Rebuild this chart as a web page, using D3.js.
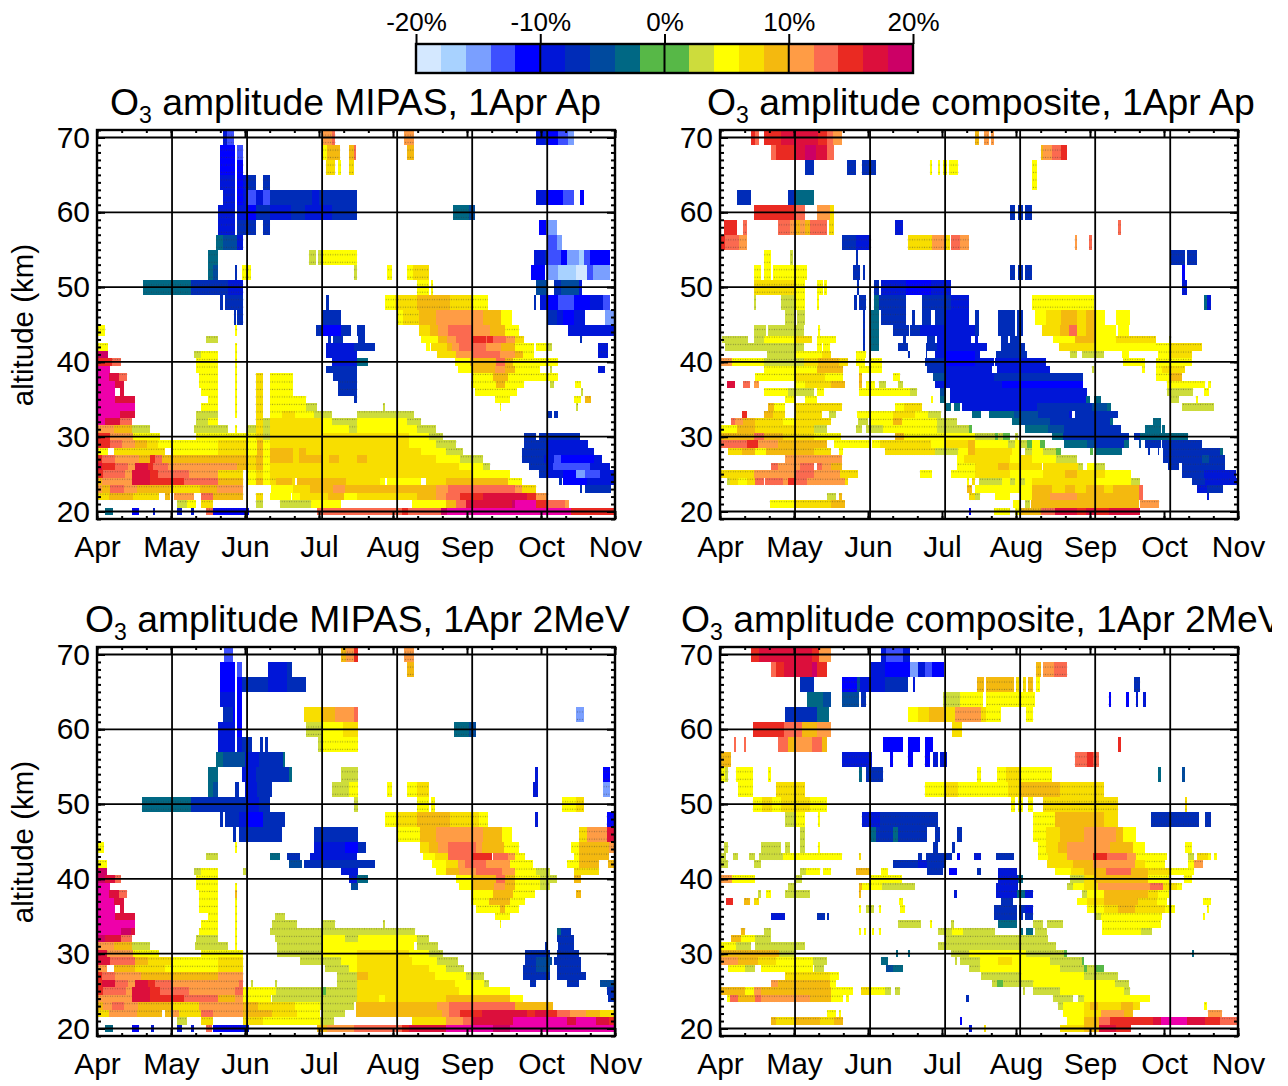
<!DOCTYPE html>
<html><head><meta charset="utf-8"><script src="https://cdn.jsdelivr.net/npm/d3@7"></script>
<style>html,body{margin:0;background:#fff}svg{display:block}text{font-family:"Liberation Sans",Arial,sans-serif;fill:#000}</style></head>
<body><svg id="c" width="1272" height="1086"></svg>
<script>
const monthLabels=['Apr','May','Jun','Jul','Aug','Sep','Oct','Nov'];
const gridDays=[31,62,93,124,155,186];
const altitudeTicks=[20,30,40,50,60,70];
const barTicks=[-20,-10,0,10,20];
const levelColors=['#d4e8ff','#a8d2ff','#7a9fff','#3d50ff','#0000ff','#0016d8','#002cb8','#004a9e','#006884','#57b847','#57b847','#cddc3c','#ffff00','#f8de00','#f4b90f','#ff9c45','#fb6a50','#ea2a22','#dc0f3c','#cc0066','#ee00aa'];

// each row: altitude (km), then [first day, last day, amplitude %]
const mipasAp=[
[70,[52,53.5,-9],[53.5,56.5,-13],[93.5,97,11],[97,98.5,13],[127,131,11],[181.5,185,-9],[185,186.5,-7],[186.5,190.5,-11],[190.5,194.5,-13],[194.5,197,-15]],
[68,[51,57,-11],[58,60.5,-13],[93.5,95,5],[95,100.5,9],[104,106,9],[106,107,13],[128,131,9]],
[66,[51,57,-11],[58,60.5,-11],[94.5,98.5,7],[99.7,100.7,5],[104,106,7]],
[64,[51,57,-9],[58,60.5,-11],[60.5,62,-9],[62,65.5,-7],[68.5,71.5,-7]],
[62,[52,57,-9],[58,60.5,-11],[60.5,62,-9],[62,65.5,-13],[65.5,68.5,-9],[68.5,71.5,-13],[71.5,84,-7],[84,89,-7],[89,91.7,-9],[91.7,107.5,-7],[181.5,185.5,-9],[185.5,192.5,-11],[192.5,197,-13],[199.5,201,-11]],
[60,[50,57,-9],[58,62,-9],[62,65.5,-11],[65.5,71.5,-7],[71.5,80,-9],[80,86,-7],[86,97,-9],[97,107.5,-7],[147,153.5,-3],[153.5,156,-5]],
[58,[50,57,-9],[58,65.5,-7],[68.5,71.5,-7],[182.5,185.5,-11],[185.5,190,-15]],
[56,[49,52,-3],[52,58,-5],[58,60.5,-9],[186.5,190,-13],[190,192,-15]],
[54,[46,50,-3],[87.5,90.5,3],[91.5,93.5,3],[93.5,107.5,5],[180.5,185,-9],[185,186.5,-7],[186.5,191.5,-13],[191.5,194,-11],[194,199,-15],[199,201,-17],[201,203.5,-13],[203.5,212,-11]],
[52,[46,48,-3],[48,50,-5],[57,58,-7],[60,63.5,5],[106,107.5,3],[120,122,5],[128,130.5,5],[130.5,137,7],[179.5,185,-11],[185.5,190.5,-15],[190.5,198,-17],[198,202.5,-19],[202.5,205,-13],[205,212,-15]],
[50,[19,39,-3],[39,54,-7],[54,60.5,-9],[132,137,5],[138,139,5],[181.5,186.5,-5],[189,191.5,-7],[191.5,199,-5],[199,200.5,-9]],
[48,[51,52,-7],[53,60.5,-7],[94.7,95.8,-7],[119,123,5],[123,132,7],[132,146,9],[146,155,7],[155,161.5,5],[180.5,181.5,-7],[183,186.5,-9],[186.5,190.5,-11],[190.5,197,-13],[197,203.5,-11],[203.5,209,-9],[209,212,-13]],
[46,[56.5,57.5,-7],[58,60.5,-7],[93,100.7,-7],[124,126.5,5],[126.5,133,7],[133,140,9],[140,159.5,11],[159.5,167,9],[167,171.5,5],[186,190,-7],[190,192.5,-9],[192.5,197,-11],[197,201.5,-9],[210,214,-15]],
[44,[0,3.5,5],[57,58,5],[90.5,93,-7],[93,100.7,-11],[100.7,104.8,-7],[107.6,110.8,-7],[133,137.5,7],[137.5,141,9],[141,145,11],[145,155,13],[155,162.5,11],[162.5,168.5,9],[168.5,174.5,5],[194.5,213.5,-9]],
[43,[45,50,3],[95.6,96.6,-7],[97.7,101.8,-7],[107.7,110.8,-7],[134,141,5],[141,144.5,9],[144.5,148.5,11],[148.5,155,13],[155,160.5,15],[160.5,161,13],[161,163.5,15],[163.5,169,13],[169,172.5,11],[172.5,176.5,7],[199.5,200.5,-7]],
[42,[0,4.5,5],[57,58,5],[94.5,106,-9],[106,115,-7],[136,137.5,5],[138,144.5,7],[144.5,146.5,9],[146.5,149.5,11],[149.5,160.5,13],[160.5,167,11],[167,172.5,9],[172.5,180.5,5],[181.5,186,5],[186,188,3],[207,211,-9]],
[41,[0,4.5,19],[40,43,3],[43,50,5],[57,58,5],[94.5,107.6,-9],[140.5,148.5,7],[148.5,155,11],[155,166.5,13],[166.5,172.5,11],[172.5,176,9],[176,180.5,5],[207,211,-9]],
[40,[0,6,15],[6,10,13],[41,50,5],[57,58,5],[97,107.6,-9],[107.6,112,-3],[148,154,5],[154,165,9],[165,168.5,13],[168.5,172,9],[172,190.5,5]],
[39,[0,5.5,21],[41,50,5],[57,58,5],[94.5,107.6,-7],[149,155,5],[155,164.5,9],[164.5,168.5,11],[168.5,172.5,9],[172.5,183,5],[187,188,3],[207,210,-9]],
[38,[0,5,21],[5,9,17],[9,12.5,13],[42,50,5],[57,58,5],[65.5,68.5,7],[71.5,81,5],[97.7,107.6,-7],[155,163.5,5],[163.5,170,9],[170,190.5,5]],
[37,[0,7.5,21],[7.5,11,17],[42,50,5],[57,58,5],[65.5,68.5,7],[71.5,81,5],[99.7,107.6,-7],[154.5,165,5],[165,168.5,9],[168.5,176.5,5],[187,189,3],[197.5,200,5]],
[36,[0,7.5,21],[9.5,11,17],[43,50,5],[57,58,5],[65.5,68.5,7],[71.5,81,5],[99.7,107.6,-7],[156,173.5,5],[200,200.7,3]],
[35,[0,7.5,21],[7.5,15.5,17],[46,50,5],[57,58,5],[65.5,68.5,7],[71.5,82,5],[82,86.5,5],[106,107.6,-7],[164.5,170.5,5],[197,200,5],[201.5,204,9]],
[34,[0,15.5,21],[43,50,5],[57,58,5],[65.5,68.5,7],[71.5,86.5,5],[86.5,91,3],[118,119,3],[166.5,167,5],[198,198.7,3]],
[33,[0,9.5,21],[9.5,15.5,17],[41,50,3],[57,58,5],[65.5,68.5,7],[71.5,76.5,5],[76.5,82,7],[82,89.5,5],[89.5,97,3],[107.5,131,3],[186.5,188,-7],[189,190.5,-7]],
[32,[0,3.5,21],[3.5,9.5,17],[9.5,14.5,13],[41,46,3],[46,50,5],[65.5,68.5,7],[68.5,71.5,3],[71.5,93,7],[93,97,5],[97,106,3],[106,107.5,3],[107.5,128,5],[128,134,3]],
[31,[0,7,11],[7,14.5,9],[14.5,22,3],[40,54,3],[57,58,5],[62,65.5,3],[65.5,68.5,7],[68.5,71.5,3],[71.5,93.5,7],[93.5,104,5],[104,107.5,3],[107.5,132,5],[132,140,3]],
[30,[0,5.5,15],[5.5,15,11],[15,26,5],[41,62,5],[62,65.5,5],[65.5,68.5,7],[68.5,71.5,3],[71.5,129,7],[129,137,5],[137,143,3],[176.5,181.5,-7],[182.5,199.5,-7]],
[29,[0,5.5,15],[5.5,10.5,13],[10.5,15.5,11],[15.5,20.5,9],[20.5,25,7],[25,50,5],[50,62,7],[62,66,5],[66,68.5,9],[68.5,71.5,5],[71.5,129,7],[129,140,5],[140,148.5,3],[176.5,185.5,-7],[185.5,203,-9]],
[28,[0,4.5,5],[7,15.5,7],[15.5,28,7],[30.5,50,5],[50,62,7],[62,66,5],[66,68.5,9],[68.5,71.5,5],[71.5,81,9],[81,83.5,7],[83.5,86.5,9],[86.5,134,7],[134,144,5],[144,151,3],[175.5,185.5,-7],[185.5,199.5,-9],[199.5,205.5,-9]],
[27,[0,2,15],[2,7.5,13],[7.5,17.5,11],[17.5,22,9],[22,24,15],[24,27,13],[27,62,9],[62,65.5,7],[65.5,68.5,9],[68.5,71.5,5],[71.5,81,9],[81,83.5,7],[83.5,93,9],[93,96,7],[96,100,9],[100,107.5,7],[107.5,111.5,9],[111.5,140,7],[140,150,5],[150,159.5,3],[175.5,184.5,-7],[184.5,189,-9],[189,191.5,-13],[191.5,205.5,-11],[205.5,208.5,-9]],
[26,[0,2,17],[2,7.5,15],[7.5,13,13],[13,15.5,11],[15.5,21,17],[21,23,15],[23,29.5,13],[29.5,58,11],[58,62,9],[62,65.5,7],[65.5,68.5,9],[68.5,71.5,5],[71.5,149.5,7],[149.5,159.5,5],[159.5,162.5,3],[178.5,185.5,-7],[185.5,188.5,-9],[188.5,203.5,-13],[203.5,212,-9]],
[25,[0,2.5,15],[2.5,11.5,13],[11.5,14.5,11],[14.5,22,17],[22,25,15],[25,38,13],[38,50,11],[50,60.5,7],[62,65.5,5],[65.5,68.5,7],[68.5,71.5,5],[71.5,155,7],[155,163.5,5],[163.5,170.5,5],[182.5,185.5,-7],[185.5,192.5,-9],[192.5,198,-11],[198,201.5,-15],[201.5,208,-13],[208,213.5,-9]],
[24,[0,2,9],[2,14.5,11],[14.5,22,17],[22,36,15],[36,50,13],[50,60.5,9],[62,65.5,5],[65.5,68.5,9],[68.5,71.5,5],[71.5,74,7],[74,80.5,9],[80.5,82,7],[82.5,103,9],[103,107,7],[107,117,7],[117,119,5],[120,134,5],[136,144,7],[144,170,9],[170,175.5,5],[191,192,-7],[192.5,202.5,-11],[202.5,213.5,-9]],
[23,[0,2,11],[2,5.5,9],[5.5,11,13],[11,16.5,11],[16.5,30,9],[30,42.5,7],[42.5,49.5,9],[49.5,60.5,11],[72,81,5],[81,88,7],[88,97.5,9],[97.5,102.5,11],[102.5,107.5,9],[107.5,123,9],[123,140,9],[140,145,11],[145,172.5,13],[172.5,175.5,11],[175.5,181.5,7],[199.5,200.5,-7],[201.5,212.5,-7]],
[22,[0,5,7],[5,15,9],[15,25.5,7],[28,30,9],[32,35,11],[35,40,11],[43,48,13],[48,60.5,9],[65.5,68.5,7],[71.5,80,5],[80.5,84,5],[84,91,7],[91,95.5,7],[95.5,102,9],[102,107.5,5],[107.5,132,7],[132,140,9],[140,144,11],[144,150,13],[150,159.5,15],[159.5,177.5,17],[177.5,181.5,15],[181.5,186.5,11]],
[21,[33,37,3],[37,41,5],[43,48,7],[65.5,68.5,3],[75.5,88.5,3],[88.5,101,5],[130,144,5],[144,148.5,9],[148.5,152.5,13],[152.5,171.5,17],[171.5,172.7,19],[172.7,181.5,21],[181.5,186,15],[186,193.5,13],[193.5,195,11]],
[20,[0,0.5,-7],[3.5,6.5,-3],[14.5,17.5,-11],[23,24,-9],[33,35,-9],[39,40,-9],[45,48,13],[48,63,-11],[91,126,13],[126,128.5,15],[128.5,142,13],[142,144.5,19],[144.5,196,21],[196,214,15]]
];
const compositeAp=[
[70,[13,14.5,15],[14.5,16,13],[18,25,15],[25,31,17],[31,40.5,17],[40.5,44,15],[44,46.5,13],[46.5,50.5,11],[105.5,107,9],[109,111,11],[112,113,11]],
[68,[21,23,13],[23,31,15],[31,35,17],[35,39.5,19],[39.5,44,17],[44,47,13],[132.5,133.5,9],[133.5,137,11],[137,141,13],[141,143.5,15]],
[66,[35,39,-7],[52.5,56,-7],[58.5,64.5,-7],[86.7,87.7,5],[90,91,5],[92,93.7,5],[94.5,98.5,5],[129,131,5]],
[64,[129,131,5]],
[62,[7,13,-7],[28,31,-7],[31,39,-3]],
[60,[14,27,15],[27,31,15],[31,35,13],[40,45.5,11],[45.5,47,7],[120,122,-7],[123,125,-7],[126,129,-7]],
[58,[1.5,7,15],[9.5,11,13],[24,29,13],[29,31,11],[31,33,9],[33,35,11],[35,37,9],[37,44,13],[45,47,7],[72.5,75.5,-9],[164.5,165.5,13]],
[56,[0,2,15],[2,8,13],[8,11,11],[50.5,56,-7],[56,62.5,-9],[77.5,87.5,7],[87.5,93,11],[93,95,7],[95.5,99,13],[99,103,11],[146.5,147.5,11],[152.5,153.5,13]],
[54,[18,21,5],[29,30,3],[56,57,-7],[186,192,-7],[193,197,-7]],
[52,[14,17,5],[18,21,5],[22,31,5],[31,36,5],[55,58,-7],[59,60,-7],[120,122,-7],[123,125,-7],[126,129,-7],[191,192,-11]],
[50,[14,22,7],[22,30.5,7],[30.5,35,5],[40,42.5,5],[43,44,5],[56.5,57.5,-7],[63.5,65.5,-7],[66.5,77,-9],[77,87,-11],[87,95.5,-9],[191,193,-9]],
[48,[14,15,3],[25,30.5,3],[30.5,35,5],[40,41,5],[55.5,56.5,-7],[57.5,60.5,-7],[63.5,65.5,-3],[65.5,77,-7],[83.5,95.5,-7],[95.5,103,-9],[129,154.5,5],[200,201,-3],[201,203,-9]],
[46,[27,30.5,3],[32,35,3],[59,60,-7],[62.5,65.5,-3],[66.5,77,-7],[79.5,80.5,-7],[83.5,87,-7],[89,93,-7],[93,103,-9],[105.4,106.8,-7],[115,122,-7],[122.7,125,-7],[130,134.5,5],[134.5,141,7],[141,147.5,9],[147.5,151,7],[151,155,9],[155,159,5],[163.5,169.5,5]],
[44,[14,19,3],[20,34.5,3],[40.5,41.5,5],[59,60,-7],[62.5,65.5,-3],[71.5,78,-7],[78.5,82.5,-7],[82.5,93,-9],[93,105.5,-9],[105.4,106.8,-7],[115,122,-7],[122.7,125,-7],[133,140.5,7],[140.5,144,9],[144,147.5,13],[147.5,151,7],[151,155,9],[155,163.5,5],[164.5,169,5]],
[43,[1,11.5,3],[14,18,3],[18,31,5],[31,38,7],[40,48,5],[59,60,-7],[62.5,65.5,-3],[75.7,77,-7],[85.5,88.8,-7],[89.5,103.5,-9],[105.4,106.7,-9],[116,119,-7],[120,124,-7],[137.5,146.5,5],[146.5,155,9],[155,163.5,5],[163.5,180,7],[185.5,186.5,3]],
[42,[2,34.5,3],[40,42,5],[42.5,45.5,5],[59,60,-7],[62.5,65.5,-3],[73.5,77.5,-7],[85,89.5,-7],[89.5,105.5,-9],[105.4,110.2,-9],[116,126,-7],[140,155,7],[155,180,5],[180,186.5,5],[186.5,199,7]],
[41,[19.5,31,3],[31,42,5],[42,46,7],[56,60.5,5],[77.5,78.5,-7],[85,85.5,-7],[89,93,-9],[93,105.4,-11],[105.4,107.5,-9],[114,127,-7],[144.5,147.5,3],[149.5,158.5,3],[166,169,5],[181,185.5,5],[185.5,195,7]],
[40,[0.5,5,11],[5,18,5],[18,34.5,3],[34.5,40.5,7],[40.5,49,9],[49,53,7],[56,60,5],[62,67,5],[84.7,93,-7],[93,105.4,-11],[105.4,113,-9],[113.6,134.5,-9],[166.5,175.5,5],[180,195,5]],
[39,[18,34.5,5],[34.5,40,5],[40,51,9],[57.5,67,5],[85.4,93,-7],[93,112.3,-9],[114.3,136.5,-9],[153.5,154.5,3],[174.5,175.5,5],[180,182.5,5],[182.5,192,7]],
[38,[14.5,31,5],[31,43.5,7],[43.5,51,5],[57.5,58.5,9],[71.5,74.5,5],[88,93,-5],[93,113,-9],[113,150,-7],[180,185.5,5],[185.5,190.8,9]],
[37,[3,6,17],[9.5,12.5,13],[14,16,11],[31,35,5],[35,46,7],[46,51.5,9],[57.5,58.5,9],[60.5,64,5],[65.5,68.5,3],[73.5,75.5,3],[89,116.4,-9],[116.4,150,-11],[184.5,200.5,5],[201.8,203,5]],
[36,[18,28,5],[28,39,3],[40,43,5],[57.5,78.5,5],[78.5,81.5,3],[91,93.5,-5],[95,151.5,-9],[184.5,188,3],[188,195.5,3],[200,202,5]],
[35,[27,31,5],[35,40,5],[87,88,5],[91,93.5,-3],[95,151,-9],[151,153,-3],[154.5,157.5,-3],[186.5,189.5,3],[196.5,197.5,5]],
[34,[20,22.5,9],[22.5,27,5],[31,50.5,7],[72.5,76,5],[76,83.5,7],[93,95.5,-3],[96.5,99,-3],[100,131,-9],[131,153.5,-7],[153.5,160,-5],[160,161.5,-3],[191,204,3]],
[33,[9,11,15],[18,22,9],[22,27,7],[31.5,42,7],[45,48,3],[56.5,71.5,5],[71.5,80.5,7],[80.5,86,5],[86,91.5,3],[104,108,-3],[111,121.6,-3],[121.5,131.5,-5],[131.5,144,-7],[144,145.5,-9],[146.5,164.5,-7]],
[32,[4.5,6,13],[6,9.5,11],[9.5,14.5,9],[14.5,26,7],[26,31,5],[31,46,7],[57,61,3],[62.5,71.5,5],[71.5,75,9],[75,89.5,5],[89.5,98,3],[120.5,124,-3],[124,136.5,-5],[136.5,161,-7],[161,162.5,-3],[179,182,-3]],
[31,[0,7,5],[7,14.5,9],[14.5,39,7],[39,44,3],[56,58.5,3],[60.5,67.5,3],[67.5,89.5,5],[89.5,103,3],[103,104,1],[126,135.5,-3],[135.5,142,-5],[142,165.5,-7],[175.5,182,-3],[182.5,184,-3]],
[30,[0,14,9],[14,18,13],[18,26,9],[26,39,7],[39,50,5],[72.5,76,9],[76,93,5],[93,105.5,5],[105.4,113.6,3],[113.6,115,1],[115,117,3],[117,120,1],[122,123.3,3],[137,141.5,-3],[141.5,169,-7],[171,173.5,-7],[173.5,193.5,-3]],
[29,[0,11,13],[11,15.5,15],[15.5,24,11],[24,44,9],[47,62,5],[63,66,5],[66,87,7],[87,93,5],[93,102.5,7],[102.5,105.5,9],[105.4,119,5],[119,122,3],[122,124,5],[124,126.7,3],[126.7,129,1],[129,132.3,5],[132.3,134.3,1],[142,151.5,-3],[151.5,155.5,-5],[155.5,167,-7],[167,169,-3],[173,174,-5],[175.5,182,-7],[182.5,199,-7]],
[28,[3.5,9,7],[9,14.5,9],[14.5,19,5],[19,39,9],[39,46,7],[49,51,5],[68,89,7],[89,98.5,3],[98.5,102.5,5],[102.5,105.5,9],[105.4,120.5,7],[120.5,124,5],[126,129,3],[129,133.6,5],[133.6,139,3],[139,141,1],[153,154,1],[155,166,-3],[176.7,177.5,-7],[181,181.5,-7],[183,206.5,-7],[206.5,208,-3]],
[27,[27,50.5,11],[98,101,5],[101,105.5,7],[105.4,119.8,7],[119.8,124,5],[124,129,7],[129,139,5],[139,147.5,3],[183,195,-7],[195,199,-7],[199,202,-5],[202,208.5,-7]],
[26,[21,24,13],[24,33,11],[33,39,13],[40,42,13],[42,46,11],[46,50.5,9],[98,105.5,5],[105.5,115,7],[115,119.2,9],[119.2,133,7],[133.5,148,7],[148,150,3],[151.5,155,5],[155,159,3],[185,189.5,-7],[191,208.5,-7]],
[25,[0,14,7],[14,31,11],[31,39,13],[39,49.5,11],[49.5,57,7],[82.5,87.5,5],[95.5,105.5,5],[105.4,120,7],[120,133.5,5],[133.5,142.5,7],[142.5,147.5,9],[147.5,159,7],[159,170,5],[191,200,-7],[200,213,-9]],
[24,[3,4,3],[4,7.5,7],[7.5,11,5],[11,14.5,7],[14.5,18,13],[18.5,26,13],[26,28,11],[28,31,15],[31,36,13],[36,51.5,11],[51.5,53,7],[102,103,5],[104,105.5,7],[107,116.5,3],[116.5,120,5],[120,122,3],[122,124,5],[124,126,3],[126,129,5],[129,155,7],[155,170,5],[170,173.5,3],[195,200.5,-7],[200.5,213.5,-9]],
[23,[102,104,9],[105.5,129,5],[129,137,9],[137,142.5,7],[142.5,146.5,9],[146.5,151,7],[151,158.5,9],[158.5,162.5,7],[162.5,173,9],[173,174.7,13],[197,201,-9],[201,208,-7]],
[22,[44,48,3],[49,50.5,9],[103,105.5,7],[105.4,107.5,3],[113.5,120,5],[124.5,129,5],[129,136.5,9],[136.5,147.5,11],[147.5,151,9],[151,173,9],[173,174.7,13],[201,202,-9]],
[21,[20.5,31,5],[31,42,7],[42,46,7],[46,51.5,9],[121,124,5],[126,128,3],[128.5,173,9],[173.5,181.5,11]],
[20,[103,103.8,-11],[113,120,5],[122,124,5],[124,132.5,9],[132.5,138.5,13],[138.5,147.5,17],[147.5,151,15],[151,155,17],[155,160.5,15],[160.5,173.5,17]]
];
const mipas2MeV=[
[70,[52.5,56,-13],[101,103,9],[103,106,11],[106,108,15],[127,131,11]],
[68,[51,57,-11],[58,60,-13],[70.5,78.5,-9],[78.5,80.5,-7],[128,131,9]],
[66,[51,57,-11],[58,60,-11],[60,70.5,-7],[70.5,78.5,-9],[78.5,86.5,-7]],
[64,[51,57,-9],[58,60,-11]],
[62,[52,56,-7],[56,57,-11],[58,60,-11],[85.5,92.5,7],[92.5,98.5,9],[98.5,106,11],[106,108,13],[198,201,-15]],
[60,[50,57,-9],[58,60,-11],[86.5,92.5,3],[92.5,101.5,5],[101.5,108,7],[147.5,153.5,-3],[153.5,156.5,-5]],
[58,[50,57,-9],[58,60,-9],[60,64,-7],[67.5,68.5,-7],[69.5,70.5,-7],[91.5,93.5,3],[93.5,108,5]],
[56,[49,52,-3],[52,57,-5],[57,61,-5],[61,67,-9],[67,77,-7],[77,77.5,-3]],
[54,[46,50,-3],[60,65.5,-9],[65.5,79.5,-7],[79.5,80.5,-3],[101,108,3],[181,182,-9],[209,212,-11]],
[52,[46,48,-3],[48,50,-5],[57,58.5,-7],[61,66,-9],[66,72.5,-7],[97,104,3],[104,108,5],[120,122,5],[128,132,5],[132,137,7],[180,182,-9],[209,212,-15]],
[50,[18.5,39,-3],[39,54,-7],[54,61.5,-7],[61.5,67,-9],[67,71.5,-7],[106,108,3],[132,137,5],[138,139.5,5],[192,198,5],[198,201,7]],
[48,[51,52,-7],[53,58.5,-7],[58.5,61.5,-9],[61.5,68.5,-11],[68.5,77.5,-7],[119,123.5,5],[123.5,132,7],[132,146,9],[146,158,7],[158,161.5,5],[181,182,-9],[210.5,214,-11]],
[46,[56,57.5,-7],[58.5,76.5,-7],[89.5,108,-7],[124.5,133.5,5],[133.5,140,9],[140,159.5,11],[159.5,167.5,9],[167.5,171.5,5],[199,202.5,7],[202.5,210.5,11],[210.5,214,17]],
[44,[0,3,5],[57,58,5],[89.5,102.5,-9],[102.5,108,-11],[108,111,-7],[133.5,137,7],[137,141,9],[141,145,11],[145,156.5,13],[156.5,159,11],[159,168,9],[168,174.5,5],[196,199,5],[199,211.5,9],[211.5,214,11]],
[43,[45,50,3],[71.5,75.5,-3],[78.5,84,-7],[88,107.5,-9],[134.5,139.5,5],[139.5,145,7],[145,155,13],[155,160.5,15],[160.5,163,15],[163.5,170,13],[170,172.5,11],[172.5,177,5],[197,199,5],[199,211.5,9]],
[42,[0,4,5],[79.5,84.5,-5],[85.5,115,-7],[138.5,144,5],[144,149,7],[149,152,11],[152,160.5,13],[160.5,170.5,11],[170.5,180,5],[194,199,5],[199,207.5,9],[211,214,9]],
[41,[0,4,19],[40,43,3],[43,50,5],[60.5,61.5,3],[101,108,-9],[140,144,5],[144,149.5,9],[149.5,156.5,11],[156.5,167.5,13],[167.5,172.5,11],[172.5,181.5,5],[181.5,187,3],[197,207.5,7]],
[40,[0,3.5,19],[3.5,7.5,17],[7.5,10,13],[41,50,5],[104,107.5,-9],[107.5,112,-3],[148.5,155,5],[155,165,9],[165,168.5,13],[168.5,172.5,9],[172.5,183,5],[183,190,3],[197,200,9]],
[39,[0,5.5,21],[41,50,5],[57,58,5],[105,108,-5],[149.5,155,5],[155,164,9],[164,168.5,11],[168.5,172.5,9],[172.5,183,5],[183,187,3]],
[38,[0,5,21],[5,9,17],[9,12.5,13],[42,50,5],[57,58,9],[154.5,163.5,5],[163.5,172,9],[172,181,5],[198,200,9]],
[37,[0,7,21],[7,11,17],[42,50,5],[57,58,5],[154.5,162,5],[162,170.5,9],[170.5,177,5]],
[36,[0,7.5,21],[9.5,11,17],[42,50,5],[57,58,5],[156.5,166.5,5],[166.5,168.5,9],[168.5,174.5,5]],
[35,[0,7.5,21],[7.5,15.5,17],[46,50,5],[57,58,5],[73.5,77.5,3],[164.5,170.5,5]],
[34,[0,15.5,21],[43,50,5],[57,58,5],[72.5,82.5,3],[93.5,98.5,3],[118,119,3],[166.5,167,5]],
[33,[0,10,21],[10,14,19],[14,15.5,17],[42,50,5],[57,58,5],[71.5,131.5,3],[190,191.5,-3],[191.5,196,-7]],
[32,[0,3.5,19],[3.5,10,17],[10,14.5,13],[41,50,3],[57,58,5],[73.5,93,3],[93,102.5,5],[102.5,108,3],[108,124.5,5],[124.5,132,5],[132,137,3],[190,197,-7]],
[31,[0,7,11],[7,14.5,9],[14.5,22,3],[40.5,54,3],[57,58,5],[74.5,93,3],[93,131,5],[132,141,3],[185,186,-7],[190.5,197,-7]],
[30,[0,4,17],[4,15,11],[15,25.5,5],[43,60.5,5],[74.5,93,3],[93,107.5,5],[107.5,129,7],[129,137,5],[137,143,3],[177,187,-7],[190,199,-7]],
[29,[0,5.5,17],[5.5,15.5,13],[15.5,21,9],[21,30.5,7],[30.5,40.5,5],[40.5,50,5],[50,60.5,7],[84,93,3],[93,101,3],[101,107.5,5],[107.5,130,7],[130,140.5,5],[140.5,149,3],[177,181.5,-7],[181.5,188,-5],[189,200,-7]],
[28,[0,4,11],[7,15.5,9],[15.5,28,7],[28,50,5],[50,60.5,7],[94,104,3],[104,107.5,5],[107.5,137,7],[137,144,5],[144,151.5,3],[176,181.5,-7],[181.5,187,-5],[190,200,-7]],
[27,[0,2,15],[2,7.5,13],[7.5,18,11],[18,30.5,9],[30.5,50,9],[50,60.5,11],[99,107.5,3],[107.5,112,9],[112,139.5,7],[139.5,152.5,5],[152.5,160,3],[176,187,-7],[190,202,-7]],
[26,[0,2,15],[2,7.5,17],[7.5,13,13],[13,15.5,11],[15.5,21,17],[21,24,15],[24,30.5,13],[30.5,58.5,11],[58.5,60.5,13],[63.5,64.5,3],[73.5,74.5,3],[99,107.5,3],[107.5,148,7],[148,160,5],[160,162,3],[179,181.5,-7],[194,199,-7],[208,214,-5]],
[25,[0,2.5,15],[2.5,12,13],[12,14.5,11],[14.5,22,17],[22,26,15],[26,38,13],[38,57,11],[57,60.5,13],[60.5,74,5],[74,93.5,3],[93.5,94.5,1],[94.5,107.5,3],[107.5,149.5,7],[149.5,163.5,5],[163.5,170.5,5],[210.5,214,-7]],
[24,[0,2,11],[2,14.5,11],[14.5,22,17],[22,36,15],[36,50,13],[50,57,9],[57,60.5,11],[60.5,72,5],[72.5,93,3],[93,107.5,3],[107.5,116.5,7],[116.5,119,5],[119,144,7],[144,170.5,9],[170.5,176,5],[211,214,-7]],
[23,[0,2.5,9],[2.5,6,11],[6,11,13],[11,17,11],[17,30.5,9],[30.5,42,7],[42,60.5,11],[60.5,66.5,9],[66.5,82,7],[82,92,5],[92,106,3],[107,140.5,9],[140.5,145.5,11],[145.5,172.5,13],[172.5,188.5,9]],
[22,[0,5,7],[5,16.5,11],[16.5,27,9],[28,30.5,9],[31.5,34,11],[34,43,7],[43,48,13],[48,60.5,11],[60.5,72.5,9],[72.5,82.5,7],[82.5,92,5],[93.5,102.5,3],[107,142.5,9],[142.5,145.5,11],[145.5,150,13],[150,159,15],[159,177.5,17],[177.5,181,15],[181,186.5,17],[186.5,190,15],[190,195.5,13],[195.5,202,11],[202,208,9],[208,214,7]],
[21,[33,37,3],[43,48,7],[60.5,68.5,7],[68.5,92,5],[92,98,3],[130,144,7],[144,151,11],[151,155,13],[155,172,17],[172,194,21],[194,198,17],[198,206,21],[206,211.5,17],[211.5,214,15]],
[20,[0,0.5,-7],[3.5,6.5,-3],[14.5,17.5,-11],[22.5,23.5,-9],[33,35,-9],[39,40,-9],[45,47.5,13],[48,59.5,-11],[59.5,63,-9],[91,95,9],[95,106,11],[106,126,13],[126,129,15],[129,144,17],[144,163.5,21],[163.5,170.5,19],[170.5,214,21]]
];
const composite2MeV=[
[70,[13,16,15],[16,30,17],[30,38,17],[38,41,15],[41,46,11],[66.5,68.5,-9],[68.5,75.5,-13],[75.5,78.5,-9]],
[68,[21,23,13],[23,26.5,15],[26.5,38,17],[38,40,19],[40,44,15],[62.5,68,-9],[68,78.5,-11],[78.5,82,-15],[82,84.5,-9],[84.5,87.5,-13],[87.5,92.5,-11],[130.5,132.5,9],[133.5,138,11],[138,143.5,13]],
[66,[33,39,-7],[50.5,56.5,-11],[56.5,58,-5],[58,68,-9],[68,77.5,-7],[79.7,80.7,-9],[106,109,9],[110,121.5,9],[122.4,123.4,7],[125,126.3,7],[127.3,129.4,9],[130.5,132,5],[171,173.7,-7]],
[64,[36,42.5,-3],[42.5,46,-5],[50.5,57.5,-5],[58.3,60.5,-7],[92,99,3],[99,108.5,5],[110,130,5],[160.5,161.7,-11],[167.7,168.8,-11],[171.7,172.7,-9],[174.8,176,-9]],
[62,[27,31.5,-7],[31.5,40,-7],[40,45,-3],[77.5,82,5],[82,86.5,7],[86.5,93,9],[93,97,7],[97,108,11],[108,110,7],[110,116,5],[126.3,129.4,5]],
[60,[13.5,26.5,15],[26.5,34,13],[34,40,9],[40,46,11],[96,100,7]],
[58,[5.6,6.6,13],[9.8,10.8,13],[24,28,13],[28,31.5,9],[31.5,38,11],[38,42,13],[42,44,9],[67.5,75.5,-11],[77.5,82.5,-11],[84.5,88,-11],[164.6,165.7,15]],
[56,[0.5,4.5,9],[50.5,63,-9],[70.3,71.6,-11],[77.5,79.7,-11],[84.5,86.7,-11],[88,90,-9],[91,93.7,-9],[146.5,151.5,13],[151.5,154,15],[154,156.5,13]],
[54,[0,2,5],[2,3.5,3],[6.5,13.5,5],[20,21,5],[57.3,58.5,-3],[60.5,67.5,-7],[106,108,5],[114.5,118,5],[118,124,7],[124,137,5],[181,182,-3],[191,192,-5]],
[52,[7.5,13.5,5],[23,35,7],[84.5,93,5],[93,98.5,7],[98.5,119,5],[119,124.5,7],[124.5,140.5,9],[140.5,158.5,7]],
[50,[13.5,17.5,5],[17.5,21.5,7],[21.5,25,5],[25,34.5,7],[34.5,37,7],[37,44,5],[120.3,122,5],[123,125,5],[127.3,129.4,5],[133.5,164.5,7],[192,193,7]],
[48,[27,30.5,3],[31.5,35,5],[40.3,41.3,5],[58.5,66,-9],[66,82,-7],[82,90,-7],[129.5,138.5,5],[138.5,146,9],[146,158.5,9],[158.5,164.5,7],[178,198,-7],[200.5,203,-7]],
[46,[33,35,3],[62,64.5,-3],[64.5,71.5,-7],[71.5,73.5,-3],[73.5,85.5,-7],[89,91,-7],[98,100,-7],[129.5,134.5,5],[134.5,140.5,7],[140.5,147.5,9],[147.5,150.5,9],[150.5,163.5,11],[163.5,166.5,9],[166.5,172,5]],
[44,[1.5,3.5,3],[17,25,3],[27,29,3],[33,35,3],[40.3,41.3,5],[88,90,-7],[96,97,-7],[131.5,134.5,5],[134.5,139.5,7],[139.5,143.5,9],[143.5,161,11],[161,170.5,9],[170.5,175.5,5],[192,195,5]],
[43,[0.5,2.5,3],[5.5,7.5,3],[12,14.5,3],[16,26,3],[26,50.5,5],[57.3,58.3,7],[82,83.5,-7],[85,96,-7],[98,99,-11],[105,108,-9],[114,121.5,-7],[131.5,135.5,5],[135.5,143.5,7],[143.5,154,11],[154,160,15],[160,168,13],[168,172,11],[172,184.5,5],[193.5,196,3],[197,201.5,7],[201.5,202.8,5],[204.2,205.2,5]],
[42,[0.5,3.5,3],[14,17,3],[71.5,82,-7],[82,85.5,-9],[85.5,93.5,-7],[135,146,7],[146,154,9],[154,171.5,11],[171.5,175.5,7],[175.5,184,5],[193.5,196,5],[196,199.5,11]],
[41,[33,35.5,3],[35.5,41.5,5],[42.5,46,5],[56,62,9],[66.5,69.5,5],[85.5,92,-7],[94.7,98,-11],[106,108,-7],[115,122.5,-9],[138.5,145,5],[145,150.5,7],[150.5,159.5,9],[159.5,170,13],[170,177,9],[177,186,7],[186,196,5]],
[40,[0.5,5,11],[5,14.5,5],[31.5,34,3],[62,75,5],[115,123,-9],[123,125,-3],[144.5,150.5,3],[150.5,154.5,7],[154.5,177,9],[177,185.5,5],[191.5,195,5]],
[39,[28,31.5,3],[57.3,58.7,9],[58.7,67,5],[67,80.5,3],[114,123,-9],[143.5,146,3],[146,150.5,5],[150.5,156,7],[156,177.5,11],[177.5,183,13],[183,189,7],[189,191,5]],
[38,[15.8,16.8,3],[19,21,5],[27,37,3],[57.3,58.3,9],[96.8,97.8,-9],[114,122.5,-9],[122.5,126,-3],[126,129.5,-9],[149.5,151.5,3],[151.5,158.5,5],[158.5,177,9],[177,181,7],[181,185.5,5]],
[37,[2.5,5.5,15],[10,12.5,9],[14,16,7],[74,75.5,5],[116,121,-7],[147.5,151.5,5],[151.5,158.5,7],[158.5,172.5,9],[172.5,180.5,7],[180.5,184.5,5],[199.5,203,5]],
[36,[57.3,58.3,5],[60.5,63.5,3],[65.5,66.5,5],[74.5,76.5,5],[113,122.5,-7],[123.5,126,-7],[126,129.5,-9],[151.5,158.5,5],[158.5,164.5,7],[164.5,171.5,9],[171.5,184,7],[184,188,5],[201,202,5]],
[35,[21,27,-9],[40,43.5,-7],[44.3,45.2,-7],[113,122.5,-7],[123.5,125,-7],[126,129.5,-7],[155.5,157.5,3],[157.5,182.5,5],[199.5,200.3,5]],
[34,[73.5,83,3],[86.7,87.7,5],[95.5,96.6,3],[115,122.5,-3],[129.5,133.5,3],[135,141.5,3],[158,182,5]],
[33,[8.5,10.5,9],[18,21,3],[57.3,58.3,5],[59.4,60.4,5],[63,63.6,5],[65.5,66.5,5],[90,96,3],[96,100.5,5],[100.5,113.5,3],[124,125,-3],[126.3,129.5,-3],[130,135,3],[158,174,5],[174,178.5,3]],
[32,[4.5,8.5,9],[8.5,14.5,5],[14.5,21,3],[93,135.5,3]],
[31,[0,6.5,5],[6.5,13,3],[14.5,35,3],[90,139,3]],
[30,[0,24.5,9],[24.5,31.5,3],[72.7,73.4,-3],[77.6,78.6,-3],[95.5,103,3],[103,126.5,5],[126.5,142,3],[142,143.4,1],[195,196,-3]],
[29,[0,7.5,11],[7.5,15.5,9],[15.5,23,7],[23,38.5,5],[38.5,44,3],[66.5,69.5,-3],[97,98,3],[99,107.5,3],[107.5,115,5],[115,120.5,7],[120.5,136.5,5],[136.5,149.5,3],[149.5,150.5,1]],
[28,[3.5,10.5,5],[10.5,14.5,3],[17,38.5,5],[39,43,3],[68.5,71.5,-5],[71.5,75.5,-3],[103,107.5,3],[107.5,140.5,5],[140.5,150.5,3],[150.5,151.5,1],[151.5,155,3],[155,158.5,1]],
[27,[27,45.5,7],[45.5,49,5],[108,124.5,3],[124.5,150.5,5],[150.5,154.5,3],[154.5,164.5,3]],
[26,[21,24,11],[24,45.5,9],[45.5,48,5],[112.5,114.5,3],[114.5,117,1],[117,129.5,3],[129.5,154,5],[154,163,5],[163,169,3]],
[25,[0,10.5,9],[10.5,14,5],[14,17,11],[17,46,9],[46,55,5],[58.3,61.5,7],[61.5,68,5],[68,70.5,3],[72.3,74.5,3],[125,126,3],[129.5,140.5,3],[140.5,167,5],[167,169.5,3]],
[24,[3,4,5],[4,7.5,13],[7.5,14.5,9],[14.5,17,13],[17,37,11],[37,46,9],[46,51,5],[52.2,53.1,5],[101.8,102.8,-7],[137.5,146,3],[148,150.5,3],[150.5,177.5,5]],
[23,[139.5,141.5,3],[141.5,150.5,5],[150.5,153,7],[153,156,9],[156,165.5,7],[165.5,170.5,9],[170.5,173.5,7],[200,201,5]],
[22,[44,48,5],[49.2,50,5],[141.5,150.5,5],[150.5,157.5,7],[157.5,167,11],[167,170.5,9],[201.5,207.5,11]],
[21,[21,23,9],[23,31,7],[31,41.5,9],[41.5,47,7],[47,51,9],[99,100,-11],[143.5,150.5,5],[150.5,156.5,9],[156.5,161,13],[161,179,15],[179,182,17],[182,193,21],[193,200.5,17],[200.5,206.5,15],[206.5,213.5,13]],
[20,[103,104,-9],[109,110,7],[140.5,150.5,7],[150.5,156.5,9],[156.5,163.5,17],[163.5,170,15]]
];
// stretches [day, day, km, km] where amplitudes are significant, so carry no stippling
const solidMipasAp=[[75,170,20,32],[185,214,20,33],[175,214,44,71],[135,170,39,47],[60,108,59,63],[94,115,38,47]];
const solidCompositeAp=[[105,175,21,30],[0,50,60,71],[85,170,27,46],[135,160,43,47]];
const solidMipas2MeV=[[91,175,20,32],[45,90,45,71],[170,214,20,24],[135,170,38,47],[85,108,60,63],[85,115,41,47]];
const solidComposite2MeV=[[100,175,20,31],[0,50,58,71],[60,100,58,71],[135,175,37,49]];

const panels=[
 {name:'amplitude MIPAS, 1Apr Ap',rows:mipasAp,solid:solidMipasAp,left:97,top:130,tx:110,ylab:true},
 {name:'amplitude composite, 1Apr Ap',rows:compositeAp,solid:solidCompositeAp,left:720,top:130,tx:707},
 {name:'amplitude MIPAS, 1Apr 2MeV',rows:mipas2MeV,solid:solidMipas2MeV,left:97,top:647,tx:85,ylab:true},
 {name:'amplitude composite, 1Apr 2MeV',rows:composite2MeV,solid:solidComposite2MeV,left:720,top:647,tx:681}
];
const W=518,H=389;
const svg=d3.select('#c');
const color=d3.scaleThreshold().domain(d3.range(-18,20,2).concat([20])).range(levelColors);
const x=d3.scaleLinear().domain([0,214]).range([0,W]);
const y=d3.scaleLinear().domain([19,71]).range([H,0]);
const monthStep=214/7;
const majorX=monthLabels.map((_,i)=>i*monthStep);
const minorX=d3.range(0,22).map(i=>i*monthStep/3);
const minorY=d3.range(19,72);

const defs=svg.append('defs');
const pat=defs.append('pattern').attr('id','dots').attr('patternUnits','userSpaceOnUse').attr('width',x(1)-x(0)).attr('height',y(19)-y(20));
pat.append('rect').attr('x',0.7).attr('y',4.5).attr('width',1).attr('height',1.2).attr('fill','#333').attr('opacity',.45);

panels.forEach((p,pi)=>{
  defs.append('clipPath').attr('id','clip'+pi).append('rect').attr('width',W).attr('height',H);
  const g=svg.append('g').attr('transform',`translate(${p.left},${p.top})`);
  const cells=g.append('g').attr('clip-path',`url(#clip${pi})`);
  const data=[];
  p.rows.forEach(r=>{
    const c=r[0];
    const hi=c>=44?c+1:c+.5, lo=c>44?c-1:(c==44?43.5:c-.5);
    r.slice(1).forEach(s=>data.push({d0:s[0],d1:s[1],v:s[2],hi,lo,c}));
  });
  const isDotted=d=>{
    if(d.v>=15) return false;
    if(d.v===3) return true;
    const m=(d.d0+d.d1)/2;
    return !p.solid.some(b=>m>=b[0]&&m<=b[1]&&d.c>=b[2]&&d.c<=b[3]);
  };
  cells.selectAll('rect.cell').data(data).join('rect').attr('class','cell')
    .attr('x',d=>x(d.d0)).attr('y',d=>y(d.hi)).attr('width',d=>x(d.d1)-x(d.d0)).attr('height',d=>y(d.lo)-y(d.hi))
    .attr('fill',d=>color(d.v)).attr('shape-rendering','crispEdges');
  cells.selectAll('rect.dot').data(data.filter(isDotted)).join('rect').attr('class','dot')
    .attr('x',d=>x(d.d0)).attr('y',d=>y(d.hi)).attr('width',d=>x(d.d1)-x(d.d0)).attr('height',d=>y(d.lo)-y(d.hi))
    .attr('fill','url(#dots)');
  // grid
  g.selectAll('line.gx').data(gridDays).join('line').attr('class','gx').attr('x1',d=>x(d)).attr('x2',d=>x(d)).attr('y1',0).attr('y2',H).attr('stroke','#000').attr('stroke-width',1.8);
  g.selectAll('line.gy').data(altitudeTicks).join('line').attr('class','gy').attr('x1',0).attr('x2',W).attr('y1',d=>y(d)).attr('y2',d=>y(d)).attr('stroke','#000').attr('stroke-width',1.8);
  // axes
  const style=a=>{a.select('.domain').remove();a.selectAll('line').attr('stroke','#000').attr('stroke-width',2);a.selectAll('text').attr('font-size',30).style('font-family','"Liberation Sans"');};
  g.append('g').attr('transform',`translate(0,${H})`).call(d3.axisBottom(x).tickValues(minorX).tickSizeInner(-3).tickFormat('')).call(style);
  g.append('g').call(d3.axisTop(x).tickValues(minorX).tickSizeInner(-3).tickFormat('')).call(style);
  g.append('g').attr('transform',`translate(0,${H})`).call(d3.axisBottom(x).tickValues(majorX).tickSizeInner(-8).tickPadding(17).tickFormat((d,i)=>monthLabels[i])).call(style);
  g.append('g').call(d3.axisTop(x).tickValues(majorX).tickSizeInner(-8).tickFormat('')).call(style);
  g.append('g').call(d3.axisLeft(y).tickValues(minorY).tickSizeInner(-4).tickFormat('')).call(style);
  g.append('g').attr('transform',`translate(${W},0)`).call(d3.axisRight(y).tickValues(minorY).tickSizeInner(-4).tickFormat('')).call(style);
  g.append('g').call(d3.axisLeft(y).tickValues(altitudeTicks).tickSizeInner(-8).tickPadding(7)).call(style);
  g.append('g').attr('transform',`translate(${W},0)`).call(d3.axisRight(y).tickValues(altitudeTicks).tickSizeInner(-8).tickFormat('')).call(style);
  g.append('rect').attr('width',W).attr('height',H).attr('fill','none').attr('stroke','#000').attr('stroke-width',2.4);
  // title
  const t=svg.append('text').attr('x',p.tx).attr('y',p.top-15).attr('font-size',37.3);
  t.append('tspan').text('O');
  t.append('tspan').attr('font-size',23).attr('dy',8).text('3');
  t.append('tspan').attr('dy',-8).text(' '+p.name);
  if(p.ylab){
    svg.append('text').attr('transform',`translate(33,${p.top+195}) rotate(-90)`).attr('text-anchor','middle').attr('font-size',29.5).text('altitude (km)');
  }
});

// colour bar
const bx=d3.scaleLinear().domain([-20,20]).range([416,913]);
const bar=svg.append('g');
bar.selectAll('rect').data(levelColors.slice(0,20)).join('rect')
  .attr('x',(d,i)=>bx(-20+2*i)).attr('y',44).attr('width',bx(-18)-bx(-20)+.5).attr('height',29).attr('fill',d=>d).attr('shape-rendering','crispEdges');
bar.append('rect').attr('x',416).attr('y',44).attr('width',497).attr('height',29).attr('fill','none').attr('stroke','#000').attr('stroke-width',2.4);
const baxis=d3.axisTop(bx).tickValues(barTicks).tickSizeOuter(0).tickSizeInner(10).tickPadding(3).tickFormat(d=>d+'%');
const bg=svg.append('g').attr('transform','translate(0,44)').call(baxis);
bg.select('.domain').remove();
bg.selectAll('line').attr('stroke','#000').attr('stroke-width',2);
bg.selectAll('text').attr('font-size',26).style('font-family','"Liberation Sans"');
barTicks.forEach(v=>bar.append('line').attr('x1',bx(v)).attr('x2',bx(v)).attr('y1',44).attr('y2',73).attr('stroke','#000').attr('stroke-width',2));
</script></body></html>
